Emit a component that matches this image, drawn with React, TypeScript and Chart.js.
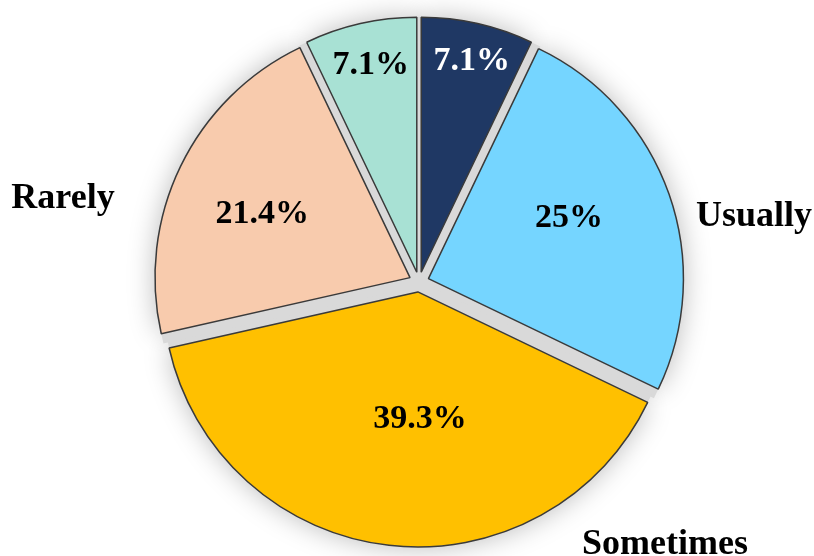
import React, { useEffect, useRef } from 'react';
import { Chart, registerables } from 'chart.js';

Chart.register(...registerables);

// ---- data ----
const categories = ['', 'Usually', 'Sometimes', 'Rarely', ''];
const values = [7.1, 25, 39.3, 21.4, 7.1];
const sliceColors = ['#1F3864', '#75D5FF', '#FFC000', '#F8CBAD', '#A8E1D4'];
const pctTextColors = ['#FFFFFF', '#000000', '#000000', '#000000', '#000000'];

// ---- layout / style (not data) ----
const RADIUS = 255;
const EXPLODE = 10;
const SERIF = '"Liberation Serif", "Times New Roman", serif';
// placement of percentage labels inside slices: fraction of radius and angle nudge (deg)
const pctPlacement = [
  { r: 0.85, da: 0.7 },
  { r: 0.6, da: -3.8 },
  { r: 0.5, da: -7.4 },
  { r: 0.63, da: -2.7 },
  { r: 0.83, da: 0.2 },
];
// placement of category labels relative to pie centre (text centre x, baseline y)
const catPlacement = [
  null,
  { dx: 335, dy: -56 },
  { dx: 246, dy: 272 },
  { dx: -356, dy: -74 },
  null,
];

const piePlugin = {
  id: 'explodedPie',
  afterDatasetsUpdate(chart: any) {
    const meta = chart.getDatasetMeta(0);
    const a = chart.chartArea;
    const cx = (a.left + a.right) / 2;
    const cy = (a.top + a.bottom) / 2;
    meta.data.forEach((arc: any) => {
      const mid = (arc.startAngle + arc.endAngle) / 2;
      arc.x = cx + Math.cos(mid) * EXPLODE;
      arc.y = cy + Math.sin(mid) * EXPLODE;
    });
  },
  beforeDatasetsDraw(chart: any) {
    const ctx = chart.ctx as CanvasRenderingContext2D;
    const meta = chart.getDatasetMeta(0);
    const a = chart.chartArea;
    const cx = (a.left + a.right) / 2;
    const cy = (a.top + a.bottom) / 2;
    ctx.save();
    // soft shadow glow
    meta.data.forEach((arc: any) => {
      ctx.save();
      ctx.shadowColor = 'rgba(0,0,0,0.28)';
      ctx.shadowBlur = 28;
      ctx.fillStyle = '#d9d9d9';
      ctx.beginPath();
      ctx.moveTo(arc.x, arc.y);
      ctx.arc(arc.x, arc.y, arc.outerRadius, arc.startAngle, arc.endAngle);
      ctx.closePath();
      ctx.fill();
      ctx.restore();
    });
    // grey gaps between slices
    ctx.strokeStyle = '#d9d9d9';
    ctx.lineWidth = 20;
    ctx.lineCap = 'butt';
    meta.data.forEach((arc: any) => {
      [arc.startAngle, arc.endAngle].forEach((ang: number) => {
        ctx.beginPath();
        ctx.moveTo(arc.x, arc.y);
        ctx.lineTo(arc.x + Math.cos(ang) * arc.outerRadius, arc.y + Math.sin(ang) * arc.outerRadius);
        ctx.stroke();
      });
    });
    ctx.fillStyle = '#d9d9d9';
    ctx.beginPath();
    ctx.arc(cx, cy, EXPLODE + 6, 0, Math.PI * 2);
    ctx.fill();
    ctx.restore();
  },
  afterDatasetsDraw(chart: any) {
    const ctx = chart.ctx as CanvasRenderingContext2D;
    const meta = chart.getDatasetMeta(0);
    const a = chart.chartArea;
    const cx = (a.left + a.right) / 2;
    const cy = (a.top + a.bottom) / 2;
    ctx.save();
    ctx.textAlign = 'center';
    // percentage labels
    ctx.font = `bold 34px ${SERIF}`;
    ctx.textBaseline = 'middle';
    meta.data.forEach((arc: any, i: number) => {
      const p = pctPlacement[i];
      const ang = (arc.startAngle + arc.endAngle) / 2 + (p.da * Math.PI) / 180;
      const r = arc.outerRadius * p.r;
      ctx.fillStyle = pctTextColors[i];
      ctx.fillText(`${values[i]}%`, arc.x + Math.cos(ang) * r, arc.y + Math.sin(ang) * r);
    });
    // category labels
    ctx.font = `bold 36px ${SERIF}`;
    ctx.textBaseline = 'alphabetic';
    ctx.fillStyle = '#000000';
    categories.forEach((c, i) => {
      const p = catPlacement[i];
      if (!c || !p) return;
      ctx.fillText(c, cx + p.dx, cy + p.dy);
    });
    ctx.restore();
  },
};

export default function App() {
  const ref = useRef<HTMLCanvasElement | null>(null);
  useEffect(() => {
    if (!ref.current) return;
    const chart = new Chart(ref.current, {
      type: 'pie',
      data: {
        labels: categories,
        datasets: [
          {
            data: values,
            backgroundColor: sliceColors,
            borderColor: '#3a3a3a',
            borderWidth: 1.5,
          },
        ],
      },
      options: {
        responsive: false,
        animation: false,
        events: [],
        radius: RADIUS,
        layout: { padding: { left: 24, top: 8, right: 0, bottom: 0 } },
        plugins: {
          legend: { display: false },
          tooltip: { enabled: false },
        },
      } as any,
      plugins: [piePlugin],
    });
    return () => chart.destroy();
  }, []);
  return (
    <div style={{ position: 'fixed', left: 0, top: 0, width: 814, height: 556, background: '#ffffff' }}>
      <canvas ref={ref} width={814} height={556} style={{ display: 'block' }} />
    </div>
  );
}
